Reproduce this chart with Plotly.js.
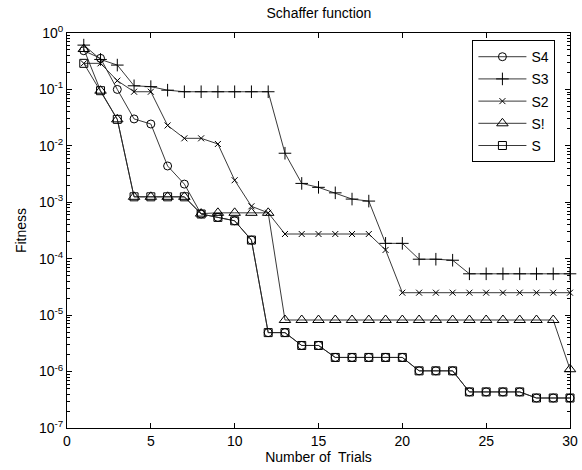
<!DOCTYPE html>
<html>
<head>
<meta charset="utf-8">
<script src="https://cdn.plot.ly/plotly-3.0.1.min.js"></script>
<style>html,body{margin:0;padding:0;background:#fff}#chart{width:582px;height:470px}</style>
</head>
<body>
<div id="chart"></div>
<script>
const trials = [1,2,3,4,5,6,7,8,9,10,11,12,13,14,15,16,17,18,19,20,21,22,23,24,25,26,27,28,29,30];

const S4 = [0.485,0.356,0.100,0.030,0.0244,0.0044,0.0021,0.00062,0.00054,0.00047,0.000214,4.9e-6,4.9e-6,2.9e-6,2.9e-6,1.78e-6,1.78e-6,1.78e-6,1.78e-6,1.78e-6,1.03e-6,1.03e-6,1.03e-6,4.36e-7,4.36e-7,4.36e-7,4.36e-7,3.4e-7,3.4e-7,3.4e-7];
const S3 = [0.61,0.34,0.27,0.116,0.112,0.097,0.091,0.091,0.091,0.091,0.091,0.091,0.0074,0.00216,0.00184,0.00147,0.00114,0.00105,1.87e-4,1.87e-4,9.8e-5,9.8e-5,9.4e-5,5.4e-5,5.4e-5,5.4e-5,5.4e-5,5.4e-5,5.4e-5,5.4e-5];
const S2 = [0.29,0.29,0.143,0.091,0.091,0.023,0.0136,0.0136,0.0108,0.00246,0.00085,0.00065,2.74e-4,2.74e-4,2.74e-4,2.74e-4,2.74e-4,2.74e-4,1.43e-4,2.5e-5,2.5e-5,2.5e-5,2.5e-5,2.5e-5,2.5e-5,2.5e-5,2.5e-5,2.5e-5,2.5e-5,2.5e-5];
const S1 = [0.52,0.095,0.0295,0.00125,0.00125,0.00125,0.00125,0.00063,0.00065,0.00065,0.00065,0.00065,8.2e-6,8.2e-6,8.2e-6,8.2e-6,8.2e-6,8.2e-6,8.2e-6,8.2e-6,8.2e-6,8.2e-6,8.2e-6,8.2e-6,8.2e-6,8.2e-6,8.2e-6,8.2e-6,8.2e-6,1.1e-6];
const S0 = [0.29,0.095,0.0295,0.00125,0.00125,0.00125,0.00125,0.00062,0.00054,0.00047,0.000214,4.9e-6,4.9e-6,2.9e-6,2.9e-6,1.78e-6,1.78e-6,1.78e-6,1.78e-6,1.78e-6,1.03e-6,1.03e-6,1.03e-6,4.36e-7,4.36e-7,4.36e-7,4.36e-7,3.4e-7,3.4e-7,3.4e-7];

const seriesNames = ['S4','S3','S2','S!','S'];
const seriesData = [S4,S3,S2,S1,S0];
const symbols = ['circle-open','cross-thin-open','x-thin-open','triangle-up-open','square-open'];
const sizes = [8,9,6,10,8];

const yTickVals = [1,0.1,0.01,0.001,1e-4,1e-5,1e-6,1e-7];
const yTickText = ['10<sup>0</sup>','10<sup>-1</sup>','10<sup>-2</sup>','10<sup>-3</sup>','10<sup>-4</sup>','10<sup>-5</sup>','10<sup>-6</sup>','10<sup>-7</sup>'];
const xTickVals = [0,5,10,15,20,25,30];

const traces = seriesData.map((ys,i)=>({
  x: trials, y: ys, type:'scatter', mode:'lines+markers', name: seriesNames[i],
  legendgroup: 'g'+i,
  line:{color:'#222', width:0.9},
  marker:{symbol:symbols[i], size:sizes[i], color:'#000', line:{color:'#000', width:1}},
  cliponaxis:false
}));

const font = {family:'"Liberation Sans", Arial, sans-serif', color:'#000', size:14};

const layout = {
  width:582, height:470,
  margin:{l:67, r:12, t:33, b:42},
  paper_bgcolor:'#fff', plot_bgcolor:'#fff',
  font: font,
  showlegend:true,
  title:{text:'Schaffer function', font:{size:14, color:'#000'}, x:0.548, xanchor:'center', y:0.972, yanchor:'middle'},
  xaxis:{
    range:[0,30], tickvals:xTickVals, ticks:'inside', ticklen:5, tickcolor:'#000',
    showline:true, linecolor:'#000', linewidth:1, mirror:'ticks', showgrid:false, zeroline:false,
    tickfont:{size:14},
    title:{text:'Number of  Trials', font:{size:14}, standoff:2}
  },
  yaxis:{
    type:'log', range:[-7,0], tickvals:yTickVals, ticktext:yTickText, ticks:'inside', ticklen:5, tickcolor:'#000',
    showline:true, linecolor:'#000', linewidth:1, mirror:'ticks', showgrid:false, zeroline:false,
    tickfont:{size:14},
    minor:{ticks:'inside', ticklen:3, tickcolor:'#000', showgrid:false, dtick:'D1'},
    title:{text:'Fitness', font:{size:14}, standoff:9}
  },
  legend:{
    x:0.806, y:0.982, xanchor:'left', yanchor:'top',
    bgcolor:'#fff', bordercolor:'#000', borderwidth:1,
    traceorder:'grouped', tracegroupgap:1, itemwidth:48,
    font:{size:14}
  }
};

Plotly.newPlot('chart', traces, layout, {staticPlot:true, displayModeBar:false});
</script>
</body>
</html>
